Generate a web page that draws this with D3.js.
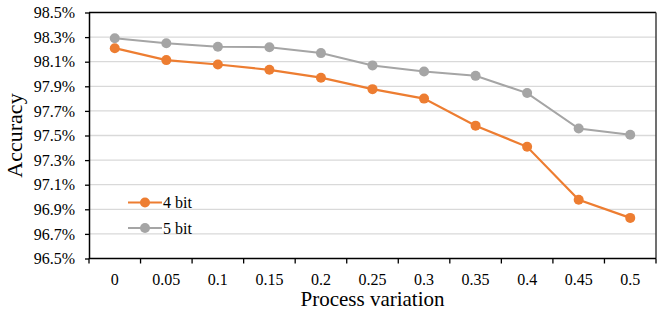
<!DOCTYPE html>
<html>
<head>
<meta charset="utf-8">
<script src="https://cdn.jsdelivr.net/npm/d3@7"></script>
<style>
  body { margin: 0; background: #fff; }
  text { font-family: "Liberation Serif", "Times New Roman", serif; fill: #000; }
</style>
</head>
<body>
<div id="chart"></div>
<script>
// categories (process variation) and accuracy (%) per series
const categories = ["0", "0.05", "0.1", "0.15", "0.2", "0.25", "0.3", "0.35", "0.4", "0.45", "0.5"];
const bit4 = [98.21, 98.113, 98.077, 98.034, 97.97, 97.877, 97.80, 97.58, 97.408, 96.977, 96.83];
const bit5 = [98.29, 98.25, 98.222, 98.218, 98.17, 98.07, 98.02, 97.985, 97.845, 97.557, 97.506];
const yTicks = [96.5, 96.7, 96.9, 97.1, 97.3, 97.5, 97.7, 97.9, 98.1, 98.3, 98.5];
const seriesNames = ["4 bit", "5 bit"];
const colors = ["#ED7D31", "#A5A5A5"];

const width = 665, height = 316;
const margin = { left: 89, right: 9, top: 12.5, bottom: 57.5 };
const plotW = width - margin.left - margin.right;
const plotH = height - margin.top - margin.bottom;

const svg = d3.select("#chart").append("svg")
  .attr("width", width)
  .attr("height", height);

const g = svg.append("g").attr("transform", `translate(${margin.left},${margin.top})`);

const x = d3.scaleBand().domain(categories).range([0, plotW]);
const y = d3.scaleLinear().domain([96.5, 98.5]).range([plotH, 0]);

// gridlines
g.selectAll(".grid")
  .data(yTicks.slice(1, -1))
  .enter().append("line")
  .attr("x1", 0).attr("x2", plotW)
  .attr("y1", d => y(d)).attr("y2", d => y(d))
  .attr("stroke", "#d9d9d9")
  .attr("stroke-width", 1.3);

// frame (top + right)
g.append("line").attr("x1", 0).attr("x2", plotW).attr("y1", 0).attr("y2", 0)
  .attr("stroke", "#000").attr("stroke-width", 1.3);
g.append("line").attr("x1", plotW).attr("x2", plotW).attr("y1", 0).attr("y2", plotH)
  .attr("stroke", "#404040").attr("stroke-width", 1.5);

// y axis
const yAxis = g.append("g")
  .call(d3.axisLeft(y).tickValues(yTicks).tickSize(4).tickSizeOuter(0)
    .tickFormat(d => d.toFixed(1) + "%"));
yAxis.select(".domain").attr("stroke", "#000").attr("stroke-width", 1.5);
yAxis.selectAll(".tick line").attr("stroke", "#000").attr("stroke-width", 1.3);
yAxis.selectAll(".tick text")
  .attr("x", -14)
  .style("font-family", "'Liberation Serif', serif")
  .style("font-size", "16px")
  .attr("fill", "#000");

// x axis: ticks on category boundaries
const xg = g.append("g").attr("transform", `translate(0,${plotH})`);
xg.append("line").attr("x1", 0).attr("x2", plotW).attr("y1", 0).attr("y2", 0)
  .attr("stroke", "#000").attr("stroke-width", 1.5);
const bounds = categories.map(c => x(c)).concat([plotW]);
xg.selectAll(".xtick").data(bounds).enter().append("line")
  .attr("x1", d => d).attr("x2", d => d).attr("y1", 0).attr("y2", 5)
  .attr("stroke", "#000").attr("stroke-width", 1.3);
xg.selectAll(".xlabel").data(categories).enter().append("text")
  .attr("x", d => x(d) + x.bandwidth() / 2)
  .attr("y", 26)
  .attr("text-anchor", "middle")
  .style("font-size", "16px")
  .text(d => d);

// series
const line = d3.line()
  .x((d, i) => x(categories[i]) + x.bandwidth() / 2)
  .y(d => y(d));

[bit4, bit5].forEach((vals, k) => {
  g.append("path")
    .datum(vals)
    .attr("d", line)
    .attr("fill", "none")
    .attr("stroke", colors[k])
    .attr("stroke-width", k === 0 ? 2.2 : 2);
  g.selectAll(".pt" + k).data(vals).enter().append("circle")
    .attr("cx", (d, i) => x(categories[i]) + x.bandwidth() / 2)
    .attr("cy", d => y(d))
    .attr("r", 5)
    .attr("fill", colors[k]);
});

// legend
const legend = svg.append("g").attr("transform", "translate(128,202.5)");
seriesNames.forEach((name, k) => {
  const row = legend.append("g").attr("transform", `translate(0,${k * 25.5})`);
  row.append("line").attr("x1", 0).attr("x2", 34).attr("y1", 0).attr("y2", 0)
    .attr("stroke", colors[k]).attr("stroke-width", 2);
  row.append("circle").attr("cx", 17).attr("cy", 0).attr("r", 5).attr("fill", colors[k]);
  row.append("text").attr("x", 35).attr("y", 5.5)
    .style("font-size", "16px").text(name);
});

// axis titles
svg.append("text")
  .attr("transform", `translate(22,${margin.top + plotH / 2}) rotate(-90)`)
  .attr("text-anchor", "middle")
  .style("font-size", "22px")
  .text("Accuracy");
svg.append("text")
  .attr("x", margin.left + plotW / 2)
  .attr("y", 306)
  .attr("text-anchor", "middle")
  .style("font-size", "21px")
  .text("Process variation");
</script>
</body>
</html>
